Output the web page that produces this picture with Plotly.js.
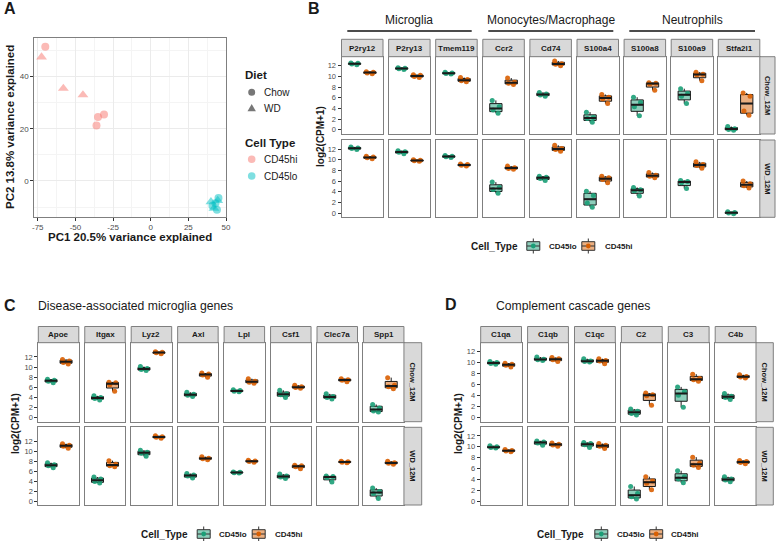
<!DOCTYPE html>
<html><head><meta charset="utf-8">
<script src="https://cdn.plot.ly/plotly-3.0.1.min.js"></script>
<style>html,body{margin:0;padding:0;background:#fff}#chart{width:777px;height:541px}</style>
</head><body><div id="chart"></div>
<script>
// ---------------- DATA ----------------
// Panel A (PCA)
const pcaTicksX = [-75, -50, -25, 0, 25, 50];
const pcaTicksY = [0, 20, 40];
const hiChowPC1 = [-70, -35, -31, -36];
const hiChowPC2 = [51.5, 24.5, 25.5, 21.3];
const hiWdPC1 = [-72.5, -58, -45];
const hiWdPC2 = [47.5, 35.5, 33];
const loChowPC1 = [45, 43, 41, 44];
const loChowPC2 = [-6.5, -8.5, -9.5, -11];
const loWdPC1 = [40, 42, 44.5];
const loWdPC2 = [-8, -10.5, -7.5];

const cellTypes = ['CD45lo', 'CD45hi'];
const diets = ['Chow_12M', 'WD_12M'];
const yTicks = [0, 2, 4, 6, 8, 10, 12];

// Panel B
const groupsB = ['Microglia', 'Monocytes/Macrophage', 'Neutrophils'];
const genesB = ['P2ry12', 'P2ry13', 'Tmem119', 'Ccr2', 'Cd74', 'S100a4', 'S100a8', 'S100a9', 'Stfa2l1'];
const B_chow_lo = [[12.2,12.35,12.45,12.5],[11.3,11.45,11.55,11.65],[10.45,10.55,10.65,10.8],[3.1,3.7,4.3,5.5],[6.3,6.5,6.7,7.0],[1.4,2.1,2.3,3.3],[2.6,4.3,5.1,6.1],[4.9,6.3,6.8,7.7],[-0.1,0.05,0.2,0.6]];
const B_chow_hi = [[10.5,10.65,10.8,10.9],[9.8,10.0,10.2,10.3],[9.0,9.2,9.4,9.8],[8.5,8.7,8.9,9.7],[12.0,12.3,12.4,12.9],[4.9,5.8,6.1,6.6],[7.4,8.6,8.7,8.8],[9.2,10.3,10.4,10.8],[2.7,3.5,6.3,6.9]];
const B_wd_lo = [[11.9,12.1,12.2,12.4],[11.1,11.4,11.5,11.7],[10.4,10.55,10.65,10.8],[3.7,4.4,4.8,5.8],[6.1,6.5,6.7,6.9],[1.1,1.9,3.3,4.1],[3.2,4.2,4.35,4.8],[4.6,5.7,5.9,6.1],[-0.15,0.0,0.1,0.25]];
const B_wd_hi = [[10.2,10.35,10.5,10.65],[9.7,9.8,9.9,10.0],[8.8,8.95,9.1,9.2],[8.2,8.35,8.5,8.8],[11.6,11.9,12.1,12.7],[5.7,6.3,6.6,6.9],[6.6,6.9,7.1,7.6],[8.4,8.9,9.1,9.6],[4.7,5.1,5.5,6.0]];

// Panel C
const titleC = 'Disease-associated microglia genes';
const genesC = ['Apoe', 'Itgax', 'Lyz2', 'Axl', 'Lpl', 'Csf1', 'Clec7a', 'Spp1'];
const C_chow_lo = [[6.9,7.2,7.4,7.6],[3.5,3.8,4.0,4.3],[9.3,9.5,9.7,10.1],[4.2,4.4,4.6,5.0],[5.1,5.2,5.35,5.5],[4.0,4.5,4.7,5.4],[3.7,4.0,4.2,4.7],[1.1,1.3,1.9,2.6]];
const C_chow_hi = [[10.6,10.9,11.2,11.5],[5.2,6.5,6.9,7.0],[12.6,12.8,12.9,13.0],[8.0,8.4,8.6,8.8],[6.8,7.0,7.2,7.7],[5.8,5.95,6.1,6.4],[7.1,7.4,7.5,7.7],[5.7,6.1,6.4,7.9]];
const C_wd_lo = [[6.7,7.1,7.3,7.7],[3.6,3.9,4.4,4.8],[9.0,9.6,9.8,10.2],[4.6,5.0,5.2,5.5],[5.6,5.7,5.8,5.85],[4.5,4.8,5.0,5.4],[3.8,4.7,4.9,5.0],[0.5,1.5,1.9,2.6]];
const C_wd_hi = [[10.6,11.0,11.2,11.5],[6.9,7.1,7.4,8.1],[12.6,12.8,12.9,13.1],[8.3,8.5,8.6,8.9],[7.8,7.95,8.05,8.2],[6.5,6.9,7.1,7.2],[7.7,7.8,7.9,8.0],[7.4,7.6,7.7,8.0]];

// Panel D
const titleD = 'Complement cascade genes';
const genesD = ['C1qa', 'C1qb', 'C1qc', 'C2', 'C3', 'C4b'];
const D_chow_lo = [[9.7,9.85,10.0,10.2],[10.4,10.5,10.6,11.0],[10.1,10.2,10.3,10.7],[0.5,0.8,1.2,1.6],[1.9,4.1,4.7,5.6],[3.3,3.7,3.9,4.4]];
const D_chow_hi = [[9.2,9.5,9.7,9.9],[10.2,10.5,10.7,10.9],[9.8,10.3,10.4,10.7],[2.3,4.0,4.2,4.5],[6.6,6.9,7.1,7.9],[7.2,7.4,7.5,7.8]];
const D_wd_lo = [[9.8,9.9,10.0,10.2],[10.3,10.7,10.9,11.1],[9.9,10.4,10.6,10.8],[0.4,0.8,1.4,2.7],[3.4,4.1,4.5,5.6],[3.6,3.9,4.1,4.5]];
const D_wd_hi = [[9.1,9.25,9.35,9.5],[10.1,10.35,10.5,10.7],[9.7,10.1,10.3,10.6],[2.1,3.3,3.7,4.5],[6.2,6.6,7.0,8.1],[6.9,7.1,7.3,7.5]];

// ---------------- BUILD ----------------
const W = 777, H = 541;
const FONT = 'Liberation Sans, Arial, Helvetica, sans-serif';
const BORDER = '#7f7f7f';
const INK = '#1a1a1a';
const PT = ['#1B9E77', '#D95F02'];
const FILL = ['#8DCEBB', '#ECAF80'];
const X = px => px / W;
const Y = py => 1 - py / H;

const traces = [], shapes = [], annotations = [];
const layout = {
  width: W, height: H, margin: {l: 0, r: 0, t: 0, b: 0},
  paper_bgcolor: '#fff', plot_bgcolor: '#fff', showlegend: false,
  font: {family: FONT, color: INK},
  shapes: shapes, annotations: annotations
};

function median(a) {
  const s = [...a].sort((p, q) => p - q), n = s.length;
  return n % 2 ? s[(n - 1) / 2] : (s[n / 2 - 1] + s[n / 2]) / 2;
}
function text(x, y, t, size, opts) {
  annotations.push(Object.assign({xref: 'paper', yref: 'paper', x: X(x), y: Y(y), text: t,
    showarrow: false, xanchor: 'center', yanchor: 'middle',
    font: {family: FONT, size: size, color: INK}}, opts || {}));
}

// ---- Panel A ----
layout.xaxis = {domain: [X(34.3), X(226.3)], range: [-77.3, 50.2], anchor: 'y',
  tickvals: pcaTicksX, ticktext: pcaTicksX.map(String), ticks: 'outside', ticklen: 3, tickcolor: '#333',
  tickfont: {size: 8, color: '#4d4d4d'}, showline: true, mirror: true, linecolor: BORDER, linewidth: 1,
  showgrid: true, gridcolor: '#EBEBEB', gridwidth: 1, zeroline: false,
  minor: {dtick: 12.5, tick0: -75, showgrid: true, gridcolor: '#F4F4F4', ticks: ''}};
layout.yaxis = {domain: [Y(216.7), Y(38.3)], range: [-13.7, 54.7], anchor: 'x',
  tickvals: pcaTicksY, ticktext: pcaTicksY.map(String), ticks: 'outside', ticklen: 3, tickcolor: '#333',
  tickfont: {size: 8, color: '#4d4d4d'}, showline: true, mirror: true, linecolor: BORDER, linewidth: 1,
  showgrid: true, gridcolor: '#EBEBEB', gridwidth: 1, zeroline: false,
  minor: {dtick: 10, tick0: 0, showgrid: true, gridcolor: '#F4F4F4', ticks: ''}};
const PINK = 'rgba(248,118,109,0.5)', CYAN = 'rgba(0,191,196,0.5)';
[[hiChowPC1, hiChowPC2, PINK, 'circle', 8], [hiWdPC1, hiWdPC2, PINK, 'triangle-up', 9.5],
 [loChowPC1, loChowPC2, CYAN, 'circle', 8], [loWdPC1, loWdPC2, CYAN, 'triangle-up', 9.5]].forEach(s => {
  traces.push({type: 'scatter', mode: 'markers', x: s[0], y: s[1], xaxis: 'x', yaxis: 'y',
    marker: {color: s[2], symbol: s[3], size: s[4], line: {width: 0}}, hoverinfo: 'skip'});
});
text(130, 237, '<b>PC1 20.5% variance explained</b>', 11.5);
text(10, 127, '<b>PC2 13.8% variance explained</b>', 11.5, {textangle: -90});
// legend A
text(243, 75, '<b>Diet</b>', 11.5, {xanchor: 'left'});
text(261.5, 92.3, 'Chow', 10, {xanchor: 'left'});
text(261.5, 108.3, 'WD', 10, {xanchor: 'left'});
text(243, 143.3, '<b>Cell Type</b>', 11.5, {xanchor: 'left'});
text(261.5, 159.3, 'CD45hi', 10, {xanchor: 'left'});
text(261.5, 176, 'CD45lo', 10, {xanchor: 'left'});
function dot(cx, cy, r, color) {
  shapes.push({type: 'circle', xref: 'paper', yref: 'paper', x0: X(cx - r), x1: X(cx + r), y0: Y(cy + r), y1: Y(cy - r),
    fillcolor: color, line: {width: 0}});
}
dot(251.7, 92.3, 3.5, '#777');
shapes.push({type: 'path', xref: 'paper', yref: 'paper',
  path: `M ${X(247.5)},${Y(111.3)} L ${X(255.9)},${Y(111.3)} L ${X(251.7)},${Y(104)} Z`, fillcolor: '#777', line: {width: 0}});
dot(251.7, 159.3, 3.8, PINK);
dot(251.7, 176, 3.8, CYAN);

// ---- facet helpers ----
let axN = 1;
function addFacet(x0, x1, top, bottom, yr, showY, lo, hi) {
  axN++;
  const xs = 'x' + axN, ys = 'y' + axN;
  layout['xaxis' + axN] = {domain: [X(x0), X(x1)], range: [-0.85, 1.85], anchor: ys,
    showline: true, mirror: true, linecolor: BORDER, linewidth: 1, showgrid: false, zeroline: false,
    showticklabels: false, ticks: '', fixedrange: true};
  layout['yaxis' + axN] = {domain: [Y(bottom), Y(top)], range: yr, anchor: xs,
    showline: true, mirror: true, linecolor: BORDER, linewidth: 1, showgrid: false, zeroline: false,
    tickvals: yTicks, ticktext: yTicks.map(String), showticklabels: showY, ticks: showY ? 'outside' : '',
    ticklen: 3, tickwidth: 1, tickcolor: '#333', tickfont: {family: FONT, size: 7.5, color: '#4d4d4d'}, fixedrange: true};
  [lo, hi].forEach((vals, i) => {
    traces.push({type: 'box', x: vals.map(() => i), y: vals, xaxis: xs, yaxis: ys, name: cellTypes[i],
      boxpoints: 'all', jitter: 0.7, pointpos: 0, width: 0.8, whiskerwidth: 0,
      fillcolor: FILL[i], line: {color: INK, width: 1},
      marker: {color: PT[i], size: 5, opacity: 0.9, line: {width: 0}}, hoverinfo: 'skip'});
    const m = median(vals);
    traces.push({type: 'scatter', mode: 'lines', x: [i - 0.4, i + 0.4], y: [m, m], xaxis: xs, yaxis: ys,
      line: {color: INK, width: 2}, hoverinfo: 'skip'});
  });
}
function strip(x0, x1, y0, y1, label, vertical) {
  shapes.push({type: 'rect', xref: 'paper', yref: 'paper', x0: X(x0), x1: X(x1), y0: Y(y1), y1: Y(y0),
    fillcolor: '#D9D9D9', line: {color: BORDER, width: 1}});
  text((x0 + x1) / 2, (y0 + y1) / 2, '<b>' + label + '</b>', vertical ? 7.5 : 8, vertical ? {textangle: 90} : {});
}
function facetBlock(genes, data, colStart, pitch, colW, rows, yr, stripTop, rowStripR) {
  genes.forEach((g, j) => {
    const x0 = colStart + j * pitch, x1 = x0 + colW;
    strip(x0, x1, stripTop, rows[0][0], g, false);
    rows.forEach((r, k) => addFacet(x0, x1, r[0], r[1], yr, j === 0, data[k][0][j], data[k][1][j]));
  });
  const xr0 = colStart + (genes.length - 1) * pitch + colW;
  rows.forEach((r, k) => strip(xr0, rowStripR, r[0], r[1], diets[k], true));
}
function legendKey(cx, cy, i) {
  shapes.push({type: 'line', xref: 'paper', yref: 'paper', x0: X(cx), x1: X(cx), y0: Y(cy + 7.5), y1: Y(cy - 7.5),
    line: {color: '#333', width: 1}});
  shapes.push({type: 'rect', xref: 'paper', yref: 'paper', x0: X(cx - 6.5), x1: X(cx + 6.5), y0: Y(cy + 4.3), y1: Y(cy - 4.3),
    fillcolor: FILL[i], line: {color: '#333', width: 1}});
  shapes.push({type: 'line', xref: 'paper', yref: 'paper', x0: X(cx - 6.5), x1: X(cx + 6.5), y0: Y(cy), y1: Y(cy),
    line: {color: '#333', width: 1}});
  dot(cx, cy, 2.4, PT[i]);
}
function legendRow(titleR, cy, k0, t0, k1, t1) {
  text(titleR, cy, '<b>Cell_Type</b>', 10, {xanchor: 'right'});
  legendKey(k0, cy, 0); text(t0, cy, '<b>' + cellTypes[0] + '</b>', 8, {xanchor: 'left'});
  legendKey(k1, cy, 1); text(t1, cy, '<b>' + cellTypes[1] + '</b>', 8, {xanchor: 'left'});
}

// ---- Panel B ----
facetBlock(genesB, [[B_chow_lo, B_chow_hi], [B_wd_lo, B_wd_hi]], 341.5, 47.1, 41.5,
  [[56.7, 134], [140, 217.3]], [-0.8, 13.7], 39.3, 775);
const groupSpans = [[347.3, 471.7], [488.3, 613.3], [629.3, 755]];
groupsB.forEach((g, i) => {
  const s = groupSpans[i];
  shapes.push({type: 'line', xref: 'paper', yref: 'paper', x0: X(s[0]), x1: X(s[1]), y0: Y(31), y1: Y(31),
    line: {color: '#111', width: 1.5}});
  text((s[0] + s[1]) / 2, 19.5, g, 12);
});
text(320, 137, '<b>log2(CPM+1)</b>', 10, {textangle: -90});
legendRow(519.5, 246, 533.3, 547, 588.3, 603);

// ---- Panel C ----
facetBlock(genesC, [[C_chow_lo, C_chow_hi], [C_wd_lo, C_wd_hi]], 38.3, 46.45, 40.5,
  [[342.7, 421.7], [427.3, 505]], [-0.8, 14.8], 326.5, 421.7);
text(36, 306, titleC, 12.2, {xanchor: 'left'});
text(15, 424, '<b>log2(CPM+1)</b>', 10, {textangle: -90});
legendRow(189.5, 534, 203.7, 216.5, 258.7, 272.5);

// ---- Panel D ----
facetBlock(genesD, [[D_chow_lo, D_chow_hi], [D_wd_lo, D_wd_hi]], 480.7, 46.9, 40.8,
  [[342.7, 421.7], [427.3, 505]], [-0.7, 13.6], 326.5, 773.3);
text(494.3, 306, titleD, 12.2, {xanchor: 'left'});
text(458, 424, '<b>log2(CPM+1)</b>', 10, {textangle: -90});
legendRow(585.5, 534, 601.3, 615, 656.2, 669);

// ---- panel letters ----
text(2, 9, '<b>A</b>', 16, {xanchor: 'left'});
text(306, 9, '<b>B</b>', 16, {xanchor: 'left'});
text(2, 305, '<b>C</b>', 16, {xanchor: 'left'});
text(443, 304, '<b>D</b>', 16, {xanchor: 'left'});

Plotly.newPlot('chart', traces, layout, {staticPlot: true, displayModeBar: false});
</script>
</body></html>
